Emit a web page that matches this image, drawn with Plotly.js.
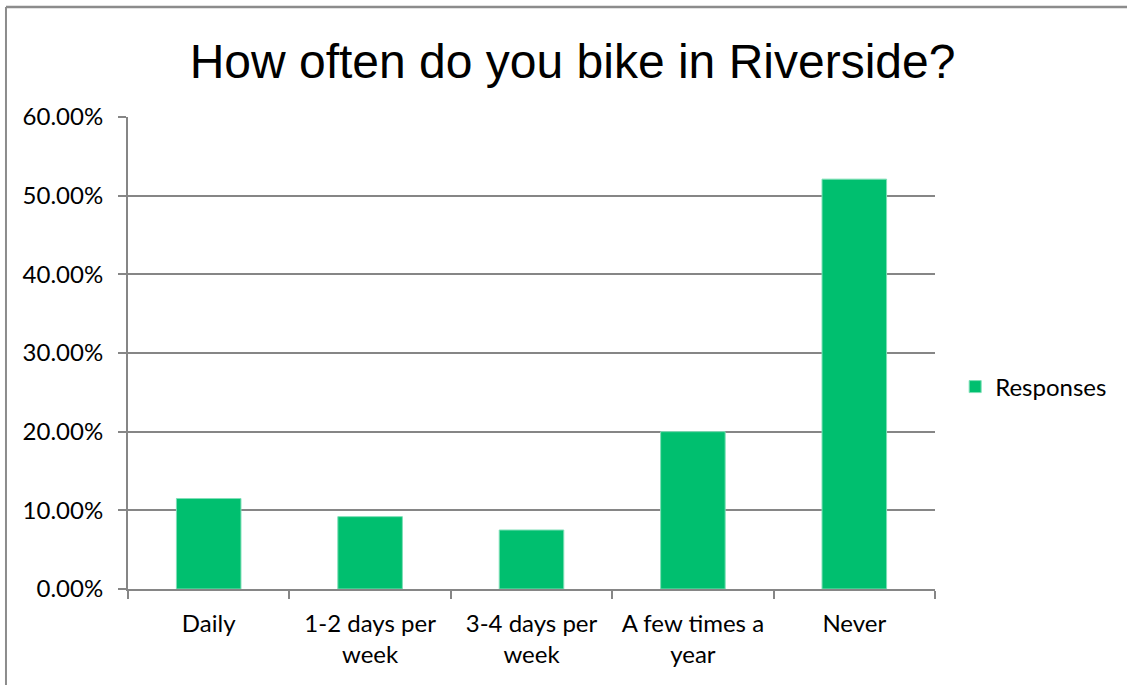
<!DOCTYPE html>
<html>
<head>
<meta charset="utf-8">
<script src="https://cdn.plot.ly/plotly-3.0.1.min.js"></script>
<style>html,body{margin:0;padding:0;background:#fff;overflow:hidden;}#chart{width:1127px;height:685px;}</style>
</head>
<body>
<div id="chart"></div>
<script>
const categories = ["Daily", "1-2 days per<br>week", "3-4 days per<br>week", "A few times a<br>year", "Never"];
const responses = [0.115, 0.092, 0.075, 0.200, 0.521];
const seriesName = "Responses";
const titleText = "How often do you bike in Riverside?";

const gridCol = "#868686";
const labelFont = {family: "Lato, 'Open Sans', sans-serif", size: 24, color: "#000"};

const trace = {
  type: "bar",
  x: categories,
  y: responses,
  name: seriesName,
  marker: {color: "#00BF6F", line: {color: "#7fdfb7", width: 1}},
  showlegend: true,
  hoverinfo: "x+y"
};

const layout = {
  width: 1127, height: 685,
  margin: {l: 128, r: 192, t: 117, b: 96},
  paper_bgcolor: "#fff", plot_bgcolor: "#fff",
  bargap: 0.6,
  title: {text: titleText, font: {family: "'Liberation Sans', Arial, sans-serif", size: 48, color: "#000"},
          x: 0.508, xanchor: "center", y: 0.91, yanchor: "middle"},
  xaxis: {
    type: "category",
    tickson: "boundaries",
    ticks: "outside", ticklen: 8, tickcolor: gridCol, tickwidth: 2,
    showline: true, linecolor: gridCol, linewidth: 2,
    showgrid: false, zeroline: false,
    tickfont: labelFont,
    ticklabelstandoff: 12,
    automargin: false
  },
  yaxis: {
    range: [0, 0.6], dtick: 0.1, tick0: 0,
    tickformat: ".2%",
    ticks: "outside", ticklen: 8, tickcolor: gridCol, tickwidth: 2,
    showline: true, linecolor: gridCol, linewidth: 2,
    showgrid: true, gridcolor: gridCol, gridwidth: 2,
    zeroline: false,
    tickfont: labelFont,
    ticklabelstandoff: 10,
    automargin: false
  },
  legend: {x: 1.025, xanchor: "left", y: 0.428, yanchor: "middle",
           font: labelFont, bgcolor: "rgba(0,0,0,0)", itemwidth: 30},
  shapes: [
    {type: "line", xref: "paper", yref: "paper", x0: -0.1512, x1: 1.238, y0: 1.2331, y1: 1.2331,
     line: {color: "#8c8c8c", width: 2.5}},
    {type: "line", xref: "paper", yref: "paper", x0: -0.1512, x1: -0.1512, y0: 1.2331, y1: -0.25,
     line: {color: "#8c8c8c", width: 2}}
  ]
};

Plotly.newPlot("chart", [trace], layout, {displayModeBar: false, staticPlot: true});
</script>
</body>
</html>
